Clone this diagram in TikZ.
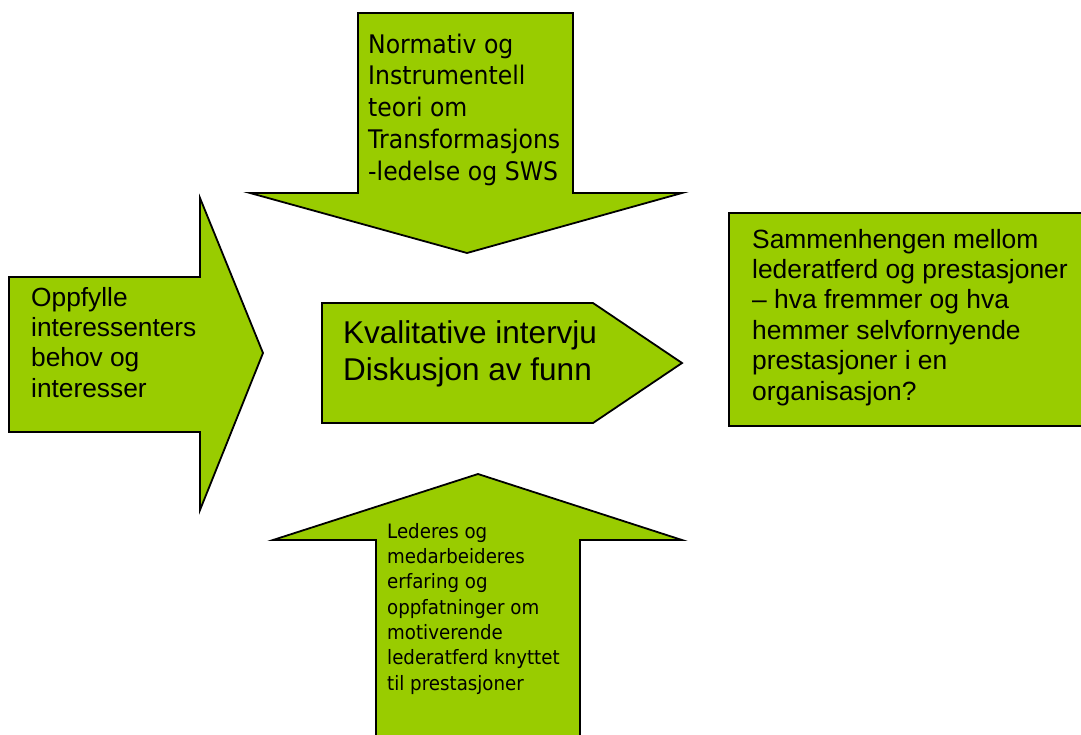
\documentclass[tikz,border=0pt]{standalone}
\usepackage{fontspec}
\setmainfont{Liberation Sans}
\newfontfamily\tahomalike[FakeStretch=0.92]{DejaVu Sans}
\definecolor{leaf}{RGB}{153,204,0}
\tikzset{
  block/.style={fill=leaf, draw=black, line width=1.8pt, line join=miter},
  % anchored at the baseline of the last line of each text
  txt/.style={anchor=base west, inner sep=0pt, align=left, text=black}
}
\begin{document}
\begin{tikzpicture}[x=1pt, y=-1pt]
\useasboundingbox (0,0) rectangle (1081,734);
\clip (0,0) rectangle (1081,734);

% downward arrow (theory)
\draw[block] (358,13) -- (573,13) -- (573,193) -- (682,193) -- (467,253)
  -- (250,193) -- (358,193) -- cycle;
% rightward arrow (stakeholders)
\draw[block] (9,277) -- (200,277) -- (200,198) -- (263,353) -- (200,510)
  -- (200,432) -- (9,432) -- cycle;
% central pentagon
\draw[block] (322,303) -- (593,303) -- (682,363) -- (593,423) -- (322,423) -- cycle;
% research question box
\draw[block] (729,213) rectangle (1095,426);
% upward arrow (experiences)
\draw[block] (376,745) -- (376,540) -- (273,540) -- (478,474) -- (682,540)
  -- (580,540) -- (580,745);

\node[txt, font=\tahomalike\fontsize{25.6}{31.75}\selectfont] (theory) at (368,180)
  {Normativ og\\Instrumentell\\teori om\\Transformasjons\\-ledelse og SWS};
\node[txt, font=\fontsize{26.3}{30.3}\selectfont] (stake) at (31,397)
  {Oppfylle\\interessenters\\behov og\\interesser};
\node[txt, font=\fontsize{31.5}{37}\selectfont] (method) at (343,380)
  {Kvalitative intervju\\Diskusjon av funn};
\node[txt, font=\fontsize{26.4}{30.4}\selectfont] (question) at (752,400)
  {Sammenhengen mellom\\lederatferd og prestasjoner\\– hva fremmer og hva\\hemmer selvfornyende\\prestasjoner i en\\organisasjon?};
\node[txt, font=\tahomalike\fontsize{19.8}{25.3}\selectfont] (exp) at (387,690)
  {Lederes og\\medarbeideres\\erfaring og\\oppfatninger om\\motiverende\\lederatferd knyttet\\til prestasjoner};
\end{tikzpicture}
\end{document}
